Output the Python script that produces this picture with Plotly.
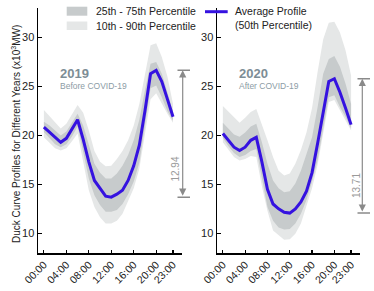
import plotly.graph_objects as go

hours = list(range(24))
tick_vals = [0, 4, 8, 12, 16, 20, 23]
tick_text = ["00:00", "04:00", "08:00", "12:00", "16:00", "20:00", "23:00"]

years = ["2019", "2020"]
subtitles = ["Before COVID-19", "After COVID-19"]

med_2019 = [20.85, 20.3, 19.75, 19.3, 19.7, 20.6, 21.6, 19.6, 17.3, 15.4, 14.55, 13.8,
            13.7, 14.0, 14.4, 15.4, 16.9, 19.0, 22.5, 26.3, 26.64, 25.5, 23.7, 21.9]
p75_2019 = [21.4, 21.0, 20.5, 20.0, 20.4, 21.3, 22.2, 21.0, 19.0, 17.1, 16.2, 15.6,
            15.6, 16.1, 16.9, 18.0, 19.5, 21.6, 24.6, 27.3, 27.5, 26.3, 24.4, 22.4]
p25_2019 = [20.35, 19.7, 19.1, 18.8, 19.1, 19.9, 20.9, 18.3, 15.6, 13.9, 12.9, 12.2,
            12.2, 12.4, 13.0, 14.0, 15.3, 17.2, 20.8, 24.8, 25.1, 23.9, 22.5, 21.5]
p90_2019 = [22.6, 22.0, 21.3, 20.7, 21.2, 22.1, 23.1, 22.3, 20.5, 18.4, 17.3, 16.85,
            16.9, 17.6, 18.4, 19.5, 21.0, 23.2, 26.3, 29.2, 29.4, 28.0, 26.0, 23.2]
p10_2019 = [19.8, 19.2, 18.7, 18.45, 18.7, 19.4, 20.2, 17.3, 14.4, 12.7, 11.65, 11.0,
            11.0, 11.3, 12.0, 13.3, 14.6, 16.6, 20.1, 23.7, 24.3, 23.2, 22.2, 21.3]

med_2020 = [20.2, 19.5, 18.8, 18.45, 18.8, 19.5, 19.8, 17.3, 14.5, 13.0, 12.5, 12.15,
            12.07, 12.5, 13.2, 14.3, 16.2, 19.2, 22.5, 25.5, 25.78, 24.4, 22.8, 21.1]
p75_2020 = [21.3, 20.7, 20.1, 19.85, 20.3, 20.9, 21.2, 19.3, 17.1, 15.4, 14.6, 14.2,
            14.3, 15.1, 16.4, 18.1, 19.8, 22.9, 26.3, 27.8, 28.1, 27.0, 25.3, 23.2]
p25_2020 = [19.75, 18.9, 18.2, 17.8, 18.0, 18.4, 18.6, 15.6, 12.7, 11.3, 10.6, 10.4,
            10.45, 11.0, 12.0, 13.4, 15.3, 17.5, 20.6, 23.9, 24.1, 22.9, 21.9, 20.7]
p90_2020 = [23.0, 22.4, 21.8, 21.3, 21.8, 22.4, 22.7, 21.2, 19.5, 17.8, 16.4, 15.9,
            16.1, 17.1, 18.5, 20.3, 22.8, 26.5, 29.8, 31.5, 31.6, 30.5, 28.7, 26.1]
p10_2020 = [19.3, 18.5, 17.8, 17.45, 17.6, 17.9, 17.8, 14.8, 12.3, 10.3, 9.8, 9.35,
            9.4, 9.97, 11.0, 12.7, 14.6, 17.0, 20.0, 23.4, 23.6, 22.6, 21.6, 20.5]

series = [
    (med_2019, p25_2019, p75_2019, p10_2019, p90_2019),
    (med_2020, p25_2020, p75_2020, p10_2020, p90_2020),
]

LIGHT = "#e5e7e7"
DARK = "#c7cbcc"
BLUE = "#3512e0"
FONT = "Liberation Sans, Arial, sans-serif"

W, H = 374, 291
ML, MR, MT, MB = 38, 14, 8, 38
PW = W - ML - MR
PH = H - MT - MB


def px(xp):
    return (xp - ML) / PW


def py(yp):
    return 1 - (yp - MT) / PH


fig = go.Figure()
annotations = []
shapes = []

arrow_x = [182.7, 362.3]
cap_x1 = [190, 370]
label_pos = [(23.5, 16.6), (24.0, 14.9)]

for i, (med, p25, p75, p10, p90) in enumerate(series):
    xa = "x" if i == 0 else "x2"
    ya = "y" if i == 0 else "y2"
    common = dict(x=hours, xaxis=xa, yaxis=ya, mode="lines", showlegend=False, hoverinfo="skip")
    fig.add_trace(go.Scatter(y=p10, line=dict(width=0, color=LIGHT), **common))
    fig.add_trace(go.Scatter(y=p90, line=dict(width=0, color=LIGHT), fill="tonexty",
                             fillcolor=LIGHT, **common))
    fig.add_trace(go.Scatter(y=p25, line=dict(width=0, color=DARK), **common))
    fig.add_trace(go.Scatter(y=p75, line=dict(width=0, color=DARK), fill="tonexty",
                             fillcolor=DARK, **common))
    fig.add_trace(go.Scatter(y=med, line=dict(width=3, color=BLUE), **common))

    top, bot = max(med), min(med)
    # double arrow
    annotations.append(dict(xref="paper", x=px(arrow_x[i]), yref=ya, y=top,
                            axref="pixel", ax=0, ayref=ya, ay=bot, text="",
                            showarrow=True, arrowside="end+start", arrowhead=2,
                            arrowsize=1.2, arrowwidth=1.2, arrowcolor="#8a8a8a",
                            standoff=0, startstandoff=0))
    for v in (top, bot):
        annotations.append(dict(xref="paper", x=px(cap_x1[i]), yref=ya, y=v,
                                axref="pixel", ax=-14, ayref=ya, ay=v, text="",
                                showarrow=True, arrowhead=0, arrowwidth=1.5,
                                arrowcolor="#8a8a8a"))
    lx, ly = label_pos[i]
    annotations.append(dict(xref=xa, yref=ya, x=lx, y=ly, text=f"{top - bot:.2f}",
                            textangle=-90, showarrow=False,
                            font=dict(family=FONT, size=10, color="#9a9a9a")))
    annotations.append(dict(xref=xa, yref=ya, x=2.5, y=26.35, text=f"<b>{years[i]}</b>",
                            xanchor="left", yanchor="middle", showarrow=False,
                            font=dict(family=FONT, size=13, color="#7d8d96")))
    annotations.append(dict(xref=xa, yref=ya, x=2.5, y=25.05, text=subtitles[i],
                            xanchor="left", yanchor="middle", showarrow=False,
                            font=dict(family=FONT, size=8.5, color="#8c9ca5")))

# legend (manual)
shapes.append(dict(type="rect", xref="paper", yref="paper", x0=px(66.7), x1=px(87.3),
                   y0=py(15.7), y1=py(6.7), fillcolor=DARK, line=dict(width=0)))
shapes.append(dict(type="rect", xref="paper", yref="paper", x0=px(66.7), x1=px(87.3),
                   y0=py(30.0), y1=py(21.5), fillcolor=LIGHT, line=dict(width=0)))
shapes.append(dict(type="line", xref="paper", yref="paper", x0=px(205), x1=px(227.7),
                   y0=py(11.7), y1=py(11.7), line=dict(width=3, color=BLUE)))
leg_font = dict(family=FONT, size=10.5, color="#222222")
for text, xp, yp in [("25th - 75th Percentile", 94, 11.5),
                     ("10th - 90th Percentile", 94, 26),
                     ("Average Profile", 233, 11.5),
                     ("(50th Percentile)", 233, 24.5)]:
    annotations.append(dict(xref="paper", yref="paper", x=px(xp), y=py(yp), text=text,
                            xanchor="left", yanchor="middle", showarrow=False, font=leg_font))

annotations.append(dict(xref="paper", yref="paper", x=px(8), y=py(134),
                        text="Duck Curve Profiles for Different Years (x10<sup>3</sup>MW)",
                        textangle=-90, showarrow=False,
                        font=dict(family=FONT, size=10, color="#222222")))

xcommon = dict(range=[-1.05, 24.6], tickvals=tick_vals, ticktext=tick_text, tickangle=-45,
               showline=True, linecolor="black", linewidth=1.5, ticks="inside", ticklen=3,
               tickcolor="black", tickwidth=1.2, showgrid=False, zeroline=False,
               automargin=False,
               tickfont=dict(family=FONT, size=10.5, color="#222222"))
ycommon = dict(range=[8, 33], tickvals=[10, 15, 20, 25, 30], showline=True, linecolor="black",
               linewidth=1.5, ticks="inside", ticklen=4, tickcolor="black", tickwidth=1.2,
               showgrid=False, zeroline=False, automargin=False,
               tickfont=dict(family=FONT, size=11, color="#222222"))

fig.update_layout(
    width=W, height=H,
    margin=dict(l=ML, r=MR, t=MT, b=MB, autoexpand=False),
    paper_bgcolor="white", plot_bgcolor="white",
    xaxis=dict(domain=[0, 144 / PW], anchor="y", **xcommon),
    xaxis2=dict(domain=[179 / PW, 1], anchor="y2", **xcommon),
    yaxis=dict(anchor="x", **ycommon),
    yaxis2=dict(anchor="x2", **ycommon),
    annotations=annotations,
    shapes=shapes,
    font=dict(family=FONT),
    hovermode=False,
)

fig.write_html("out.html", config={"displayModeBar": False, "staticPlot": True},
               post_script="document.body.style.margin='0px';document.body.style.overflow='hidden';")
